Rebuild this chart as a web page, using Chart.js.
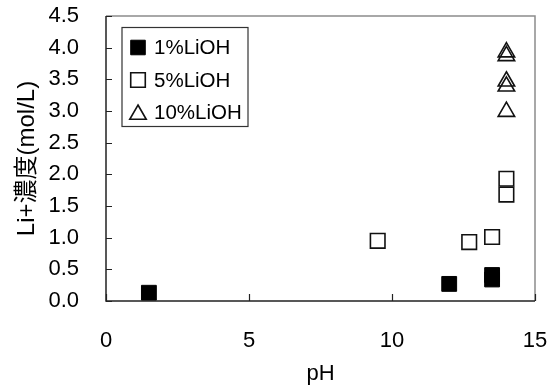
<!DOCTYPE html>
<html>
<head>
<meta charset="utf-8">
<script src="https://cdn.jsdelivr.net/npm/chart.js@4.4.1/dist/chart.umd.min.js"></script>
<style>
html,body{margin:0;padding:0;background:#fff;}
#wrap{width:555px;height:389px;}
</style>
</head>
<body>
<div id="wrap"><canvas id="c" width="555" height="389"></canvas></div>
<script>
// Data
const seriesLabels = ['1%LiOH', '5%LiOH', '10%LiOH'];
const ph1 = [1.5, 12.0, 13.5, 13.5];
const li1 = [0.13, 0.27, 0.41, 0.34];
const ph5 = [9.5, 12.7, 13.5, 14.0, 14.0];
const li5 = [0.95, 0.93, 1.01, 1.93, 1.68];
const ph10 = [14.0, 14.0, 14.0, 14.0, 14.0];
const li10 = [3.93, 3.87, 3.47, 3.39, 2.99];
const xTicks = [0, 5, 10, 15];
const yTicks = [0, 0.5, 1.0, 1.5, 2.0, 2.5, 3.0, 3.5, 4.0, 4.5];
const xTitle = 'pH';
const yTitle = 'Li+濃度(mol/L)';

const FONT = "Arial, 'Liberation Sans', 'Noto Sans CJK JP', sans-serif";

function pts(xs, ys) { return xs.map((x, i) => ({x: x, y: ys[i]})); }

const styles = [
  {pointStyle: 'rect', backgroundColor: '#000', borderColor: '#000', borderWidth: 1, radius: 10.5},
  {pointStyle: 'rect', backgroundColor: 'rgba(0,0,0,0)', borderColor: '#111', borderWidth: 1.6, radius: 10.3},
  {pointStyle: 'triangle', backgroundColor: 'rgba(0,0,0,0)', borderColor: '#111', borderWidth: 1.6, radius: 9.5}
];
const dataSets = [pts(ph1, li1), pts(ph5, li5), pts(ph10, li10)];

const datasets = dataSets.map((d, i) => ({
  label: seriesLabels[i],
  data: d,
  pointStyle: styles[i].pointStyle,
  backgroundColor: styles[i].backgroundColor,
  borderColor: styles[i].borderColor,
  pointBorderWidth: styles[i].borderWidth,
  pointRadius: styles[i].radius,
  pointHoverRadius: styles[i].radius,
  showLine: false
}));

const framePlugin = {
  id: 'frame',
  afterDatasetsDraw(chart) {
    const ctx = chart.ctx;
    const a = chart.chartArea;
    const xs = chart.scales.x, ys = chart.scales.y;
    ctx.save();
    // top & right border (gray)
    ctx.strokeStyle = '#8c8c8c';
    ctx.lineWidth = 1.5;
    ctx.beginPath();
    ctx.moveTo(a.left, a.top); ctx.lineTo(a.right, a.top); ctx.lineTo(a.right, a.bottom);
    ctx.stroke();
    // left & bottom axes (dark)
    ctx.strokeStyle = '#222';
    ctx.lineWidth = 1.5;
    ctx.beginPath();
    ctx.moveTo(a.left, a.top); ctx.lineTo(a.left, a.bottom); ctx.lineTo(a.right, a.bottom);
    ctx.stroke();
    // inward tick marks
    ctx.lineWidth = 1.2;
    ctx.beginPath();
    ys.ticks.forEach(t => {
      const y = Math.round(ys.getPixelForValue(t.value)) + 0.5;
      ctx.moveTo(a.left, y); ctx.lineTo(a.left + 6, y);
    });
    xs.ticks.forEach(t => {
      const x = Math.round(xs.getPixelForValue(t.value)) + 0.5;
      ctx.moveTo(x, a.bottom); ctx.lineTo(x, a.bottom - 7);
    });
    ctx.stroke();

    // legend box
    const lx = 122, ly = 27.5, lw = 126, lh = 99;
    ctx.fillStyle = '#fff';
    ctx.fillRect(lx, ly, lw, lh);
    ctx.strokeStyle = '#333';
    ctx.lineWidth = 1.2;
    ctx.strokeRect(lx, ly, lw, lh);
    ctx.font = '20.5px ' + FONT;
    ctx.textBaseline = 'middle';
    ctx.textAlign = 'left';
    chart.data.datasets.forEach((ds, i) => {
      const cy = ly + 20 + i * 32.5;
      const mY = ds.pointStyle === 'triangle' ? cy + 2 : cy;
      ctx.fillStyle = ds.backgroundColor;
      ctx.strokeStyle = ds.borderColor;
      ctx.lineWidth = ds.pointBorderWidth;
      Chart.helpers.drawPoint(ctx, {
        pointStyle: ds.pointStyle,
        radius: ds.pointStyle === 'triangle' ? 9.5 : 10.3,
        borderWidth: ds.pointBorderWidth,
        rotation: 0
      }, 138, mY);
      ctx.fillStyle = '#000';
      ctx.fillText(ds.label, 154, cy + 1);
    });
    ctx.restore();
  }
};

new Chart(document.getElementById('c'), {
  type: 'scatter',
  data: {datasets: datasets},
  options: {
    responsive: false,
    animation: false,
    devicePixelRatio: 1,
    layout: {padding: {top: 16, right: 20, left: 0, bottom: 0}},
    plugins: {legend: {display: false}, tooltip: {enabled: false}},
    scales: {
      x: {
        type: 'linear',
        min: 0, max: 15,
        afterFit(s) { s.height = 88; },
        afterBuildTicks(s) { s.ticks = xTicks.map(v => ({value: v})); },
        grid: {display: true, drawOnChartArea: false, drawTicks: true, tickLength: 27, color: 'rgba(0,0,0,0)'},
        border: {display: false},
        ticks: {color: '#000', padding: 0, font: {size: 22, family: FONT}, maxRotation: 0},
        title: {display: true, text: xTitle, color: '#000', font: {size: 22, family: FONT}, padding: {top: 0, bottom: 2}}
      },
      y: {
        type: 'linear',
        min: 0, max: 4.5,
        afterFit(s) { s.width = 106; },
        afterBuildTicks(s) { s.ticks = yTicks.map(v => ({value: v})); },
        grid: {display: true, drawOnChartArea: false, drawTicks: true, tickLength: 27, color: 'rgba(0,0,0,0)'},
        border: {display: false},
        ticks: {color: '#000', padding: 0, font: {size: 22, family: FONT}, callback: v => Number(v).toFixed(1)},
        title: {display: true, text: yTitle, color: '#000', font: {size: 24, family: FONT}, padding: {top: 13, bottom: 0}}
      }
    }
  },
  plugins: [framePlugin]
});
</script>
</body>
</html>
